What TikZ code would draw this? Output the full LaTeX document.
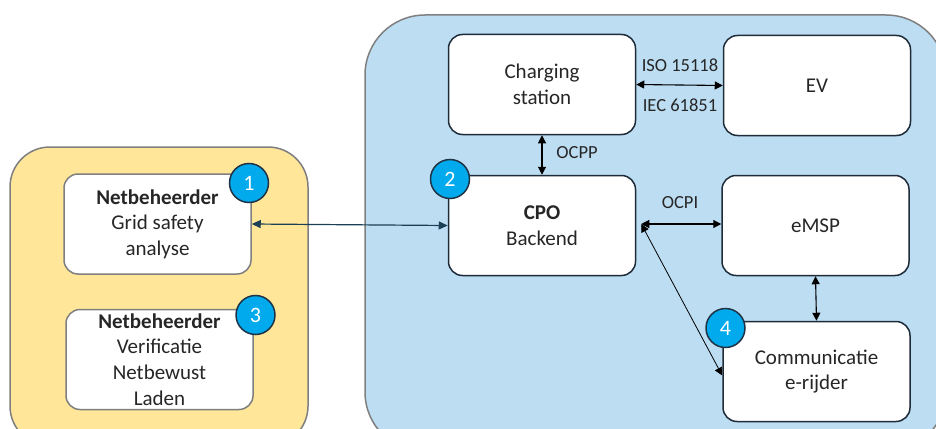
\documentclass[tikz,border=0pt]{standalone}
\usepackage{fontspec}
\setmainfont{Carlito}
\usetikzlibrary{arrows.meta}
\definecolor{panelyellow}{HTML}{FFE699}
\definecolor{panelblue}{HTML}{BDDDF2}
\definecolor{panelline}{HTML}{7F7F7F}
\definecolor{boxline}{HTML}{1E2B38}
\definecolor{badgefill}{HTML}{00AAEC}
\definecolor{badgeline}{HTML}{1F3347}
\definecolor{linkteal}{HTML}{1B3F55}
\definecolor{textdark}{HTML}{262626}
\begin{document}
\begin{tikzpicture}[x=1pt,y=-1pt,
  panel/.style={draw=panelline, line width=1.5pt},
  actor/.style={draw=boxline, fill=white, line width=1.5pt, rounded corners=14pt,
    minimum width=187pt, minimum height=100pt, inner sep=0pt, align=center,
    text=textdark, font=\fontsize{21}{25.6}\selectfont},
  gridbox/.style={actor, draw=panelline},
  badge/.style={circle, draw=badgeline, fill=badgefill, line width=1.5pt,
    minimum size=39pt, inner sep=0pt, text=white, font=\fontsize{22}{22}\selectfont},
  proto/.style={text=textdark, font=\fontsize{18.5}{22}\selectfont, inner sep=0pt},
  link/.style={draw=black, line width=1.1pt, {Triangle[length=8pt,width=8pt]}-{Triangle[length=8pt,width=8pt]}},
  thinlink/.style={draw=black, line width=0.8pt, {Triangle[length=8pt,width=8pt]}-{Triangle[length=8pt,width=8pt]}},
  gridlink/.style={draw=linkteal, line width=1.2pt, {Triangle[length=9pt,width=8pt]}-{Triangle[length=9pt,width=8pt]}}
]
\useasboundingbox (0,0) rectangle (936,428);
\clip (0,0) rectangle (936,428);

% background panels
\draw[panel, fill=panelyellow, rounded corners=40pt] (10,147) rectangle (308,446);
\draw[panel, fill=panelblue, rounded corners=60pt] (365,15) rectangle (946,452);

% grid operator boxes
\node[gridbox] (gsa) at (157.5,224) {\textbf{Netbeheerder}\\Grid safety\\analyse};
\node[gridbox] (vnl) at (159.5,359.5) {\textbf{Netbeheerder}\\Verificatie\\Netbewust\\Laden};

% charging ecosystem boxes
\node[actor] (cs)   at (542,84.5)   {Charging\\station};
\node[actor] (ev)   at (817,85.5)   {EV};
\node[actor] (cpo)  at (542,225.5)  {\textbf{CPO}\\Backend};
\node[actor] (emsp) at (815.5,225.5) {eMSP};
\node[actor] (comm) at (816.5,371.5) {Communicatie\\e-rijder};

% connectors
\draw[link] (cs.east) -- (ev.west);
\node[proto] (iso) at (680,65) {ISO 15118};
\node[proto] (iec) at (680,105) {IEC 61851};

\draw[link] (cs.south) -- (cpo.north);
\node[proto] (ocpp) at (577,153) {OCPP};

\coordinate (hub) at ([xshift=5pt,yshift=1.5pt]cpo.east);
\draw[link] (hub) -- (hub -| emsp.west);
\node[proto] (ocpi) at (680,203) {OCPI};
\draw[thinlink] (hub) -- ([yshift=-4pt]comm.west);

\draw[link] (emsp.south) -- (comm.north);

\draw[gridlink] (gsa.east) -- (cpo.west);

% numbered badges
\node[badge] (b1) at (249,183) {1};
\node[badge] (b2) at (450,179) {2};
\node[badge] (b3) at (255.5,315) {3};
\node[badge] (b4) at (725.5,328) {4};
\end{tikzpicture}
\end{document}
